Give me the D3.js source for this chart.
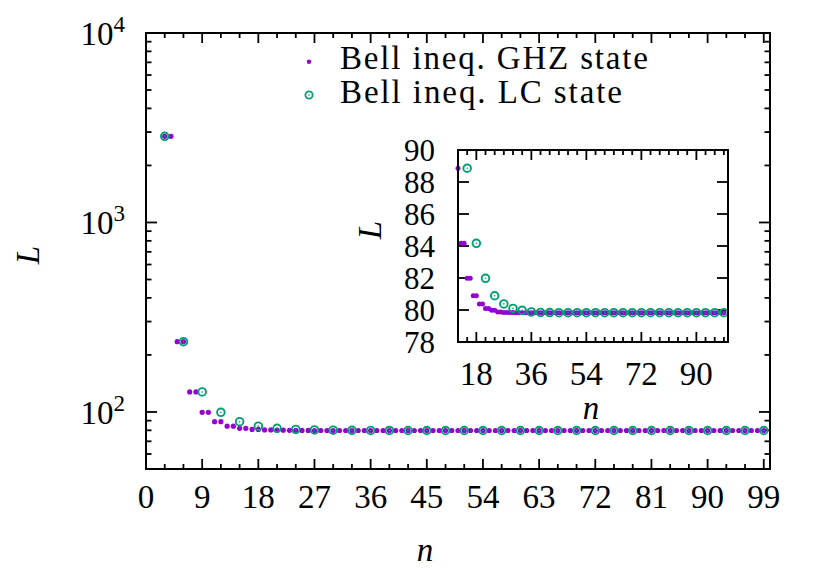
<!DOCTYPE html>
<html><head><meta charset="utf-8">
<script src="https://cdn.jsdelivr.net/npm/d3@7"></script>
<style>
body{margin:0;background:#fff}
text{font-family:"Liberation Serif","Times New Roman",serif;fill:#000}
</style></head>
<body><svg id="c" width="829" height="579"></svg>
<script>
// ---------------- DATA ----------------
const ghzN = [3,4,5,6,7,8,9,10,11,12,13,14,15,16,17,18,19,20,21,22,23,24,25,26,27,28,29,30,
  31,32,33,34,35,36,37,38,39,40,41,42,43,44,45,46,47,48,49,50,51,52,53,54,55,56,57,58,59,60,
  61,62,63,64,65,66,67,68,69,70,71,72,73,74,75,76,77,78,79,80,81,82,83,84,85,86,87,88,89,90,
  91,92,93,94,95,96,97,98,99];
const ghzL = [2850,2850,235,235,127.5,127.5,99.5,99.5,88.86,88.86,84.17,84.17,81.98,81.98,
  80.89,80.89,80.38,80.38,80.10,80.10,79.98,79.98,79.88,79.88,79.85,79.85,79.84,79.84,
  79.83,79.83,79.83,79.83,79.83,79.83,79.83,79.83,79.83,79.83,79.83,79.83,79.83,79.83,79.83,
  79.83,79.83,79.83,79.83,79.83,79.83,79.83,79.83,79.83,79.83,79.83,79.83,79.83,79.83,79.83,
  79.83,79.83,79.83,79.83,79.83,79.83,79.83,79.83,79.83,79.83,79.83,79.83,79.83,79.83,79.83,
  79.83,79.83,79.83,79.83,79.83,79.83,79.83,79.83,79.83,79.83,79.83,79.83,79.83,79.83,79.83,
  79.83,79.83,79.83,79.83,79.83,79.83,79.83,79.83,79.83];
const lcN = [3,6,9,12,15,18,21,24,27,30,33,36,39,42,45,48,51,54,57,60,63,66,69,72,75,78,81,84,87,90,93,96,99];
const lcL = [2850,235,127.5,99.5,88.86,84.17,81.98,80.89,80.38,80.10,79.98,79.88,79.85,79.84,
  79.83,79.83,79.83,79.83,79.83,79.83,79.83,79.83,79.83,79.83,79.83,79.83,79.83,79.83,79.83,
  79.83,79.83,79.83,79.83];
const seriesNames = ["Bell ineq. GHZ state","Bell ineq. LC state"];
const mainXTicks = [0,9,18,27,36,45,54,63,72,81,90,99];
const mainXMinor = [3,6,12,15,21,24,30,33,39,42,48,51,57,60,66,69,75,78,84,87,93,96];
const mainYTicks = [100,1000,10000];
const mainYMinor = [60,70,80,90,200,300,400,500,600,700,800,900,2000,3000,4000,5000,6000,7000,8000,9000];
const insetXTicks = [18,36,54,72,90];
const insetXMinor = [15,21,24,27,30,33,39,42,45,48,51,57,60,63,66,69,75,78,81,84,87,93,96,99];
const insetYTicks = [78,80,82,84,86,88,90];

// ---------------- STYLE ----------------
const PURPLE = "#9400D3", GREEN = "#009E73";
const FS = 33;
const svg = d3.select("#c");
const data1 = ghzN.map((n,i)=>({n, L: ghzL[i]}));
const data2 = lcN.map((n,i)=>({n, L: lcL[i]}));

// ---------------- MAIN ----------------
const M = {l:146, r:770, t:33, b:469};
const x = d3.scaleLinear().domain([0,100]).range([M.l, M.r]);
const y = d3.scaleLog().domain([50,10000]).range([M.b, M.t]);
const g = svg.append("g");

function tickLines(gg, vals, scale, orient, len, box){
  vals.forEach(v=>{
    const p = scale(v);
    if(orient==="x"){
      gg.append("line").attr("x1",p).attr("x2",p).attr("y1",box.b).attr("y2",box.b-len);
      gg.append("line").attr("x1",p).attr("x2",p).attr("y1",box.t).attr("y2",box.t+len);
    } else {
      gg.append("line").attr("y1",p).attr("y2",p).attr("x1",box.l).attr("x2",box.l+len);
      gg.append("line").attr("y1",p).attr("y2",p).attr("x1",box.r).attr("x2",box.r-len);
    }
  });
}
const tg = g.append("g").attr("stroke","#000").attr("stroke-width",1.8);
tickLines(tg, mainXTicks, x, "x", 10, M);
tickLines(tg, mainXMinor, x, "x", 5, M);
tickLines(tg, mainYTicks, y, "y", 11, M);
tickLines(tg, mainYMinor, y, "y", 5.5, M);

mainXTicks.forEach(v=>{
  g.append("text").attr("x",x(v)).attr("y",508).attr("text-anchor","middle")
   .attr("font-size",FS).text(v);
});
mainYTicks.forEach(v=>{
  const t = g.append("text").attr("x",125).attr("y",y(v)+12).attr("text-anchor","end").attr("font-size",FS);
  t.append("tspan").text("10");
  t.append("tspan").attr("dy",-13).attr("font-size",23).text(Math.round(Math.log10(v)));
});
g.append("text").attr("x",425).attr("y",561).attr("text-anchor","middle")
  .attr("font-size",FS).attr("font-style","italic").text("n");
g.append("text").attr("transform","translate(39,255) rotate(-90)").attr("text-anchor","middle")
  .attr("font-size",FS).attr("font-style","italic").text("L");

g.append("rect").attr("x",M.l).attr("y",M.t).attr("width",M.r-M.l).attr("height",M.b-M.t)
  .attr("fill","none").attr("stroke","#000").attr("stroke-width",2);

function drawGHZ(gg, data, xs, ys, r){
  gg.append("g").selectAll("circle").data(data).join("circle")
    .attr("cx",d=>xs(d.n)).attr("cy",d=>ys(d.L)).attr("r",r).attr("fill",PURPLE);
}
function drawLC(gg, data, xs, ys, r){
  const s = gg.append("g").selectAll("g").data(data).join("g")
    .attr("transform",d=>`translate(${xs(d.n)},${ys(d.L)})`);
  s.append("circle").attr("r",r).attr("fill","none").attr("stroke",GREEN).attr("stroke-width",1.9);
  s.append("circle").attr("r",0.8).attr("fill",GREEN);
}
drawGHZ(g, data1, x, y, 2.6);
drawLC(g, data2, x, y, 3.8);

// legend
const lg = svg.append("g");
lg.append("circle").attr("cx",309).attr("cy",61.7).attr("r",2.2).attr("fill",PURPLE);
const lc = lg.append("g").attr("transform","translate(309,95)");
lc.append("circle").attr("r",3.6).attr("fill","none").attr("stroke",GREEN).attr("stroke-width",1.8);
lc.append("circle").attr("r",0.8).attr("fill",GREEN);
lg.append("text").attr("x",340).attr("y",68.5).attr("font-size",FS)
  .attr("textLength",308).attr("lengthAdjust","spacing").text(seriesNames[0]);
lg.append("text").attr("x",340).attr("y",103.3).attr("font-size",FS)
  .attr("textLength",282).attr("lengthAdjust","spacing").text(seriesNames[1]);

// ---------------- INSET ----------------
const I = {l:458, r:728, t:150, b:342};
const xi = d3.scaleLinear().domain([12,100.35]).range([I.l, I.r]);
const yi = d3.scaleLinear().domain([78,90]).range([I.b, I.t]);
const ig = svg.append("g");
ig.append("rect").attr("x",I.l).attr("y",I.t).attr("width",I.r-I.l).attr("height",I.b-I.t).attr("fill","#fff");
const itg = ig.append("g").attr("stroke","#000").attr("stroke-width",1.8);
tickLines(itg, insetXTicks, xi, "x", 10, I);
tickLines(itg, insetXMinor, xi, "x", 5, I);
tickLines(itg, insetYTicks.filter(v=>v>78&&v<90), yi, "y", 11, I);
insetXTicks.forEach(v=>{
  ig.append("text").attr("x",xi(v)).attr("y",385).attr("text-anchor","middle").attr("font-size",FS).text(v);
});
insetYTicks.forEach(v=>{
  ig.append("text").attr("x",435).attr("y",yi(v)+10.5).attr("text-anchor","end").attr("font-size",31).text(v);
});
ig.append("text").attr("x",591).attr("y",419).attr("text-anchor","middle")
  .attr("font-size",FS).attr("font-style","italic").text("n");
ig.append("text").attr("transform","translate(381,230) rotate(-90)").attr("text-anchor","middle")
  .attr("font-size",FS).attr("font-style","italic").text("L");
const inRange = d => d.n>=12 && d.n<=100.35 && d.L>=78 && d.L<=90;
drawGHZ(ig, data1.filter(inRange), xi, yi, 2.5);
drawLC(ig, data2.filter(inRange), xi, yi, 3.8);
ig.append("rect").attr("x",I.l).attr("y",I.t).attr("width",I.r-I.l).attr("height",I.b-I.t)
  .attr("fill","none").attr("stroke","#000").attr("stroke-width",2);
</script></body></html>
